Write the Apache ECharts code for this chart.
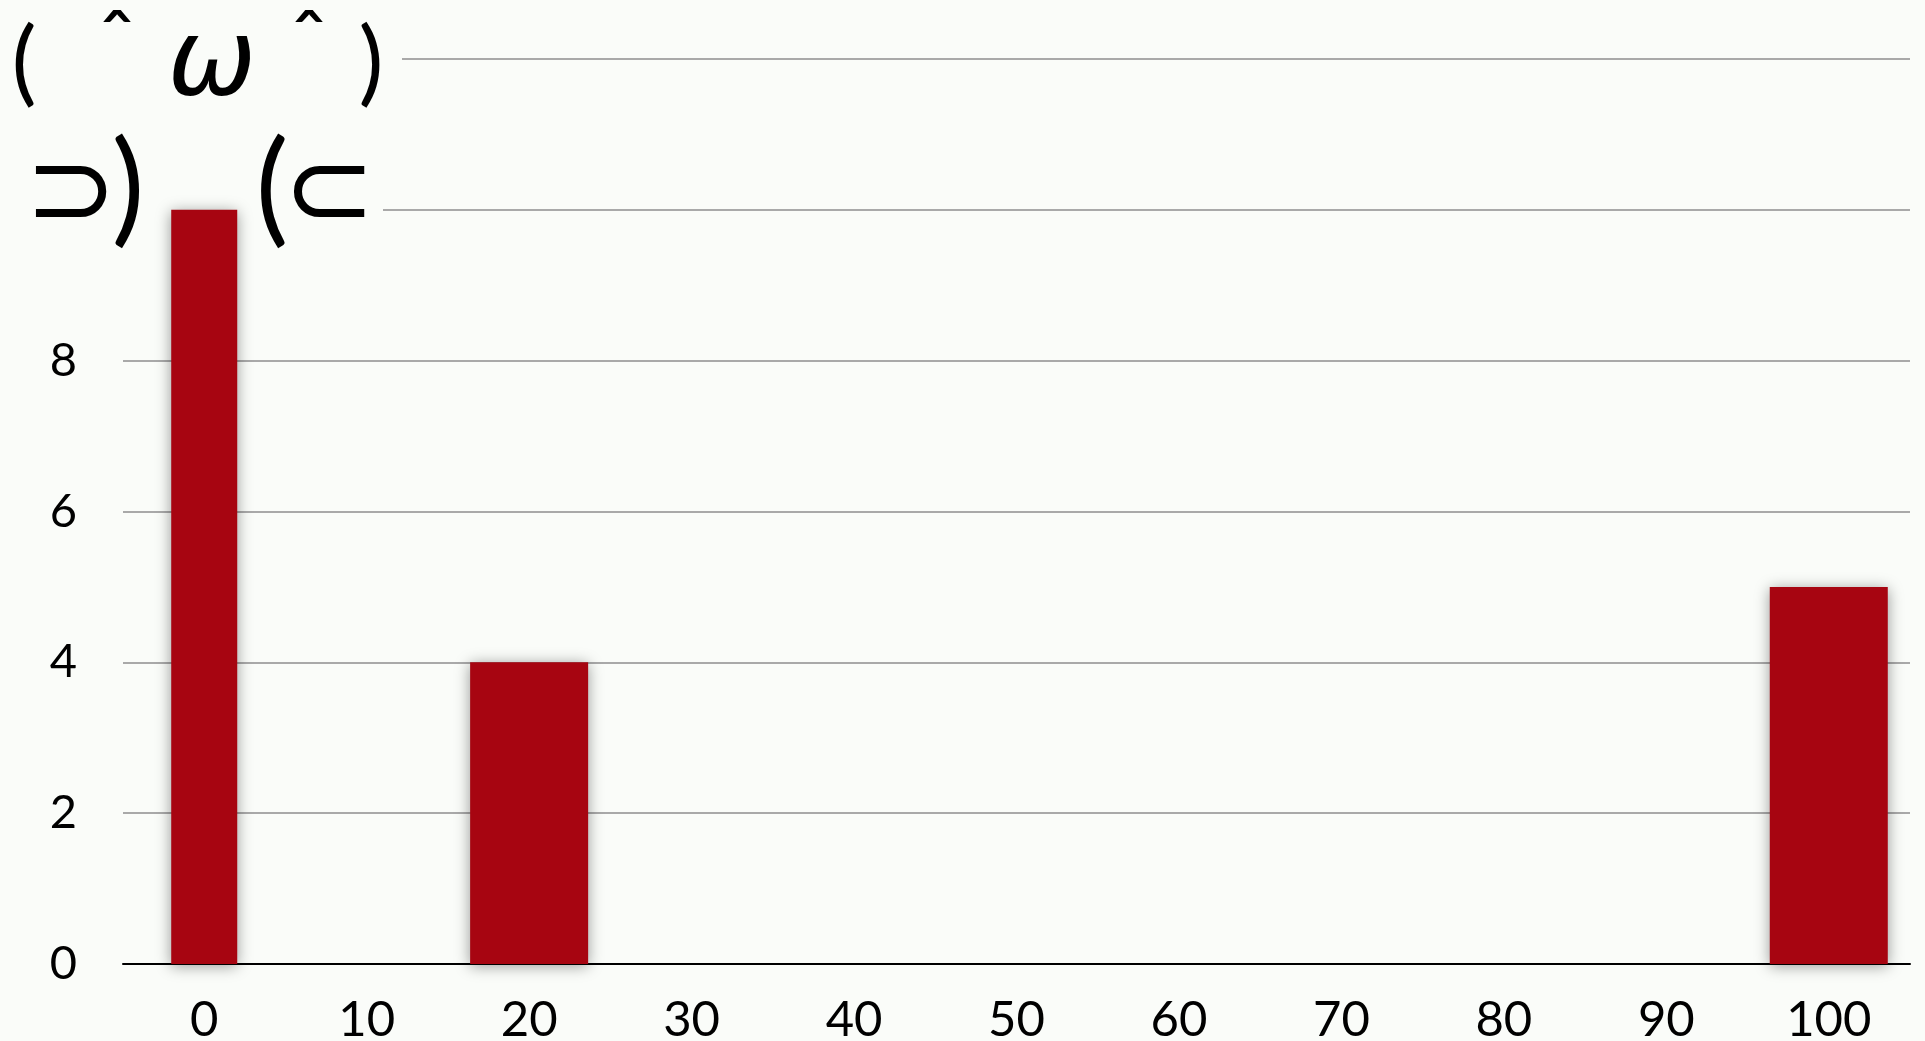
<!DOCTYPE html>
<html>
<head>
<meta charset="utf-8">
<script src="https://cdn.jsdelivr.net/npm/echarts@6/dist/echarts.min.js"></script>
<style>
    html, body { margin: 0; padding: 0; background: #fafcf9; }
    #chart { width: 1925px; height: 1041px; }
</style>
</head>
<body>
<div id="chart"></div>
<script>
// 分箱标签和计数
var categories = ['0', '10', '20', '30', '40', '50', '60', '70', '80', '90', '100'];
var counts = [10, 0, 4, 0, 0, 0, 0, 0, 0, 0, 5];
var yTicks = [0, 2, 4, 6, 8, 10, 12];

var bgColor = '#fafcf9';
var barColor = '#a70511';

// 第一个箱子画得窄一些, 其余的画宽的
var narrowData = counts.map(function (v, i) { return i === 0 && v > 0 ? v : '-'; });
var wideData = counts.map(function (v, i) { return i > 0 && v > 0 ? v : '-'; });

var barStyle = {
    color: barColor,
    shadowBlur: 14,
    shadowColor: 'rgba(0, 0, 0, 0.4)',
    shadowOffsetY: 2
};

// 颜文字, 一个字一个字摆
function glyph(text, x, y, size, font, extra) {
    var style = {
        text: text,
        x: x,
        y: y,
        fill: '#000',
        font: (extra || '') + ' ' + size + 'px ' + font,
        align: 'center',
        verticalAlign: 'middle'
    };
    return { type: 'text', z: 5, style: style };
}

var myChart = echarts.init(document.getElementById('chart'));
myChart.setOption({
    backgroundColor: bgColor,
    animation: false,
    grid: {
        left: 123,
        right: 15,
        top: 59,
        bottom: 77,
        outerBoundsMode: 'none'
    },
    xAxis: [{
        type: 'category',
        data: categories,
        axisTick: { show: false },
        axisLine: { lineStyle: { color: '#000', width: 2 } },
        axisLabel: {
            color: '#000',
            fontFamily: 'Lato',
            fontSize: 49,
            margin: 32
        }
    }, {
        type: 'category',
        data: categories,
        show: false
    }],
    yAxis: {
        type: 'value',
        min: yTicks[0],
        max: yTicks[yTicks.length - 1],
        interval: 2,
        axisLine: { show: false },
        axisTick: { show: false },
        splitLine: { lineStyle: { color: '#a9a9a9', width: 2 } },
        axisLabel: {
            color: '#000',
            fontFamily: 'Lato',
            fontSize: 47,
            margin: 46,
            formatter: function (v) { return v >= 10 ? '' : v; }
        }
    },
    series: [{
        type: 'bar',
        xAxisIndex: 0,
        data: narrowData,
        barWidth: 66,
        itemStyle: barStyle
    }, {
        type: 'bar',
        xAxisIndex: 1,
        data: wideData,
        barWidth: 118,
        itemStyle: barStyle
    }],
    graphic: [
        { type: 'rect', z: 1, shape: { x: 0, y: 50, width: 402, height: 18 }, style: { fill: bgColor } },
        { type: 'rect', z: 1, shape: { x: 0, y: 202, width: 383, height: 18 }, style: { fill: bgColor } },
        glyph('(', 24, 64, 94, 'Lato'),
        glyph('ˆ', 117, 45, 90, 'Lato'),
        glyph('ω', 212, 66, 106, 'DejaVu Sans', 'italic'),
        glyph('ˆ', 309, 45, 90, 'Lato'),
        glyph(')', 371, 64, 94, 'Lato'),
        glyph('⊃', 71, 197, 110, 'DejaVu Sans'),
        glyph(')', 128, 190, 124, 'Lato'),
        glyph('(', 272, 190, 124, 'Lato'),
        glyph('⊂', 329, 197, 110, 'DejaVu Sans')
    ]
});
</script>
</body>
</html>
